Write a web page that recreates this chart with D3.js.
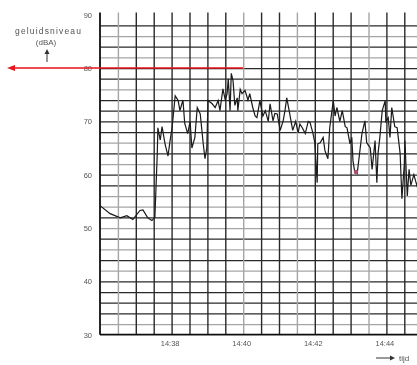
<!DOCTYPE html>
<html>
<head>
<meta charset="utf-8">
<script src="https://cdn.jsdelivr.net/npm/d3@7"></script>
<style>
  body { margin: 0; background: #fff; }
  svg { display: block; font-family: "Liberation Sans", Arial, sans-serif; }
</style>
</head>
<body>
<svg id="chart" width="417" height="365"></svg>
<script>
// seconds after 14:36:00
const secs = [0,17,34,45,55,67,72,80,87,92, 96,97,101,104,109,114,117,121,126,131,
  134,139,142,147,151,154,159,163,168,173, 176,179,181,188,193,198,201,206,210,213,
  215,218,220,223,226,230,231,235,238,243, 248,251,256,260,263,268,273,277,282,285,
  290,293,297,302,307,310,313,318,323,328, 332,335,339,344,349,352,357,360,364,365,
  369,374,377,382,385,391,394,397,402,406, 411,414,419,422,424,427,431,434,439,444,
  447,453,456,461,464,466,469,473,478,479, 483,486,489,494,498,503,506,510,511,515,
  518,521,526,531,536]
const level = [54.2,52.7,51.9,52.3,51.6,53.3,53.4,51.9,51.4,52.0, 64,68.8,66.5,69,65.8,63.5,66,69,74.8,73.9,
  72,74,69.6,67.7,70,65,67,72.6,71.4,65.8, 63,65,73.9,73.3,72.6,73.9,72,76.1,74,75.2,
  78,72,79,77.6,73,74.4,72,76,75.2,75.8, 74,75.2,72.6,71,70.7,73.9,71,72,70,73.3,
  70.1,71.5,71.4,68.3,70.1,72,74.4,71.4,68.3,70, 67.9,69.5,68.8,67.7,70,69.8,67.7,66,58.5,65.8,
  66,67,64.5,63,68.8,73.9,71,72.6,70,72, 69,68.8,65.8,67,62.6,60.5,60.2,63,67.7,70.1,
  66,65,61,66.4,58.5,64,67,72,73.9,70, 70.7,67,72.6,69,68.8,64,55.5,62,66.4,56,
  61,58,60,58,60]
const yTicks = [30,40,50,60,70,80,90]
const timeTicks = ["14:38","14:40","14:42","14:44"]
const limit = 80          // red reference level
const limitTime = "14:40"
const redMark = {s: 429, v: 60.5}

const svg = d3.select('#chart')
const parse = d3.timeParse('%H:%M')
const t0 = parse('14:36')
const toDate = s => new Date(t0.getTime() + s*1000)

const mLeft = 100, mRight = 100 + 9*35.8, mTop = 14.7, mBottom = 334.7
const x = d3.scaleTime().domain([t0, d3.timeMinute.offset(t0, 9)]).range([mLeft, mRight])
const y = d3.scaleLinear().domain([30, 90]).range([mBottom, mTop])

svg.append('defs').append('filter').attr('id','scan')
  .append('feGaussianBlur').attr('stdDeviation', 0.4)

const g = svg.append('g').attr('filter','url(#scan)')

// grid
const lightH = [86,82,76,66,62,56,54,50,46,42,32]
const hGrid = g.append('g').attr('transform', `translate(${mLeft},0)`)
  .call(d3.axisLeft(y).tickValues(d3.range(32, 90, 2)).tickSize(-(mRight-mLeft)).tickFormat(''))
hGrid.select('.domain').remove()
hGrid.selectAll('line')
  .attr('stroke', d => lightH.includes(d) ? '#a5a5a5' : '#2a2a2a')
  .attr('stroke-width', 1.3)

const vTimes = d3.range(1, 18).map(i => toDate(i*30))
const lightV = [30, 240, 330, 450]
const vGrid = g.append('g').attr('transform', `translate(0,${mBottom})`)
  .call(d3.axisBottom(x).tickValues(vTimes).tickSize(-(mBottom - y(90.4))).tickFormat(''))
vGrid.select('.domain').remove()
vGrid.selectAll('line')
  .attr('stroke', d => lightV.includes((d - t0)/1000) ? '#a5a5a5' : '#2a2a2a')
  .attr('stroke-width', 1.4)

// axes
g.append('line').attr('x1', mLeft).attr('x2', mRight).attr('y1', mBottom).attr('y2', mBottom)
  .attr('stroke', '#111').attr('stroke-width', 1.8)
g.append('line').attr('x1', mLeft).attr('x2', mLeft).attr('y1', mBottom).attr('y2', y(90.4))
  .attr('stroke', '#111').attr('stroke-width', 1.8)

const ya = g.append('g').attr('transform', `translate(${mLeft},0)`)
  .call(d3.axisLeft(y).tickValues(yTicks).tickSize(0).tickPadding(8))
ya.select('.domain').remove()
ya.selectAll('text').attr('font-size', 7.5).attr('fill', '#555')

const xa = g.append('g').attr('transform', `translate(0,${mBottom})`)
  .call(d3.axisBottom(x).tickValues(timeTicks.map(parse)).tickSize(0).tickPadding(6)
    .tickFormat(d3.timeFormat('%H:%M')))
xa.select('.domain').remove()
xa.selectAll('text').attr('font-size', 7.5).attr('fill', '#555').attr('dx', -2)

// measured trace
const line = d3.line().x(d => x(toDate(d[0]))).y(d => y(d[1]))
g.append('path').datum(d3.zip(secs, level))
  .attr('d', line).attr('fill', 'none').attr('stroke', '#1a1a1a').attr('stroke-width', 1.2)

g.append('circle').attr('cx', x(toDate(redMark.s))).attr('cy', y(redMark.v)).attr('r', 2.2)
  .attr('fill', '#b0506a')

// y label
g.append('text').attr('x', 48).attr('y', 34).attr('text-anchor', 'middle')
  .attr('font-size', 8.5).attr('fill', '#555').attr('textLength', 66).text('geluidsniveau')
g.append('text').attr('x', 46).attr('y', 45).attr('text-anchor', 'middle')
  .attr('font-size', 8).attr('fill', '#555').text('(dBA)')
g.append('line').attr('x1', 47).attr('x2', 47).attr('y1', 62).attr('y2', 52)
  .attr('stroke', '#333').attr('stroke-width', 1)
g.append('path').attr('d', 'M44.5,54 L47,49 L49.5,54 Z').attr('fill', '#333')

// red limit line
const ly = y(limit)
g.append('line').attr('x1', 13).attr('x2', x(parse(limitTime))).attr('y1', ly).attr('y2', ly)
  .attr('stroke', '#e8141b').attr('stroke-width', 1.6)
g.append('path').attr('d', `M7,${ly} L15,${ly-3} L15,${ly+3} Z`).attr('fill', '#e8141b')

// time arrow
g.append('line').attr('x1', 376).attr('x2', 392).attr('y1', 358).attr('y2', 358)
  .attr('stroke', '#333').attr('stroke-width', 1)
g.append('path').attr('d', 'M390,355.5 L395,358 L390,360.5 Z').attr('fill', '#333')
g.append('text').attr('x', 399).attr('y', 361).attr('font-size', 8).attr('fill', '#555').text('tijd')
</script>
</body>
</html>
